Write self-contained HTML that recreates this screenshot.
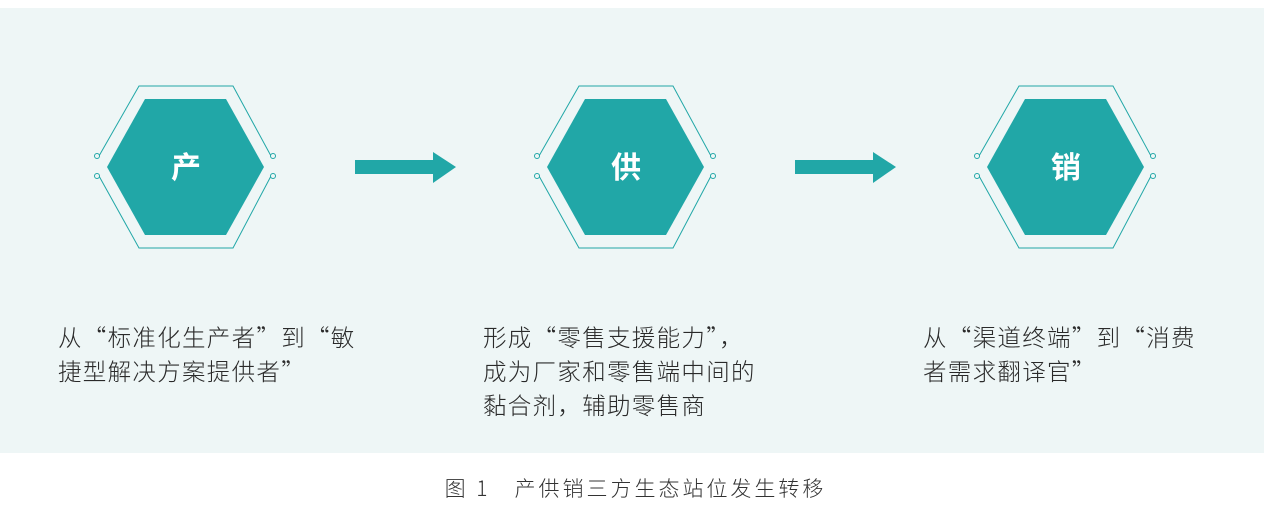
<!DOCTYPE html>
<html><head><meta charset="utf-8"><style>
body{margin:0;width:1271px;height:532px;background:#fff;position:relative;overflow:hidden;font-family:"Noto Sans CJK SC","Liberation Sans",sans-serif;}
.panel{position:absolute;left:0;top:8px;width:1264px;height:445px;background:#eef6f6;}
.t{position:absolute;font-size:23.5px;letter-spacing:1.3px;color:#2a2a2a;line-height:34px;white-space:nowrap;font-weight:300;}
.cap{position:absolute;top:473px;left:0;width:1271px;text-align:center;font-size:21px;color:#333;letter-spacing:3px;font-weight:300;}
</style></head><body>
<div class="panel"></div>
<svg width="1271" height="532" style="position:absolute;left:0;top:0">
<defs>
<g id="hx">
<polygon points="-78,0 -40,-68 41,-68 79,0 41,68 -40,68" fill="#21a7a7"/>
<polyline points="-86,-11 -46,-81 48,-81 86,-11" fill="none" stroke="#21a7a7" stroke-width="1"/>
<polyline points="-86,9 -46,81 48,81 86,9" fill="none" stroke="#21a7a7" stroke-width="1"/>
<circle cx="-88" cy="-11" r="2.5" fill="#eef6f6" stroke="#21a7a7"/>
<circle cx="88" cy="-11" r="2.5" fill="#eef6f6" stroke="#21a7a7"/>
<circle cx="-88" cy="9" r="2.5" fill="#eef6f6" stroke="#21a7a7"/>
<circle cx="88" cy="9" r="2.5" fill="#eef6f6" stroke="#21a7a7"/>
</g>
<g id="ar"><rect x="0" y="-7" width="78" height="14" fill="#21a7a7"/><polygon points="78,-15 101,0 78,16" fill="#21a7a7"/></g>
</defs>
<use href="#hx" x="185" y="167"/>
<use href="#hx" x="625" y="167"/>
<use href="#hx" x="1065" y="167"/>
<use href="#ar" x="355" y="167"/>
<use href="#ar" x="795" y="167"/>
<g font-family="Noto Sans CJK SC, sans-serif" font-size="30" font-weight="bold" fill="#fff" text-anchor="middle">
<text x="186" y="178">产</text><text x="626" y="178">供</text><text x="1066" y="178">销</text></g>
</svg>
<div class="t" style="left:58px;top:319px">从“标准化生产者”到“敏<br>捷型解决方案提供者”</div>
<div class="t" style="left:483px;top:319px">形成“零售支援能力”，<br>成为厂家和零售端中间的<br>黏合剂，辅助零售商</div>
<div class="t" style="left:923px;top:319px">从“渠道终端”到“消费<br>者需求翻译官”</div>
<div class="cap">图 1　产供销三方生态站位发生转移</div>
</body></html>
